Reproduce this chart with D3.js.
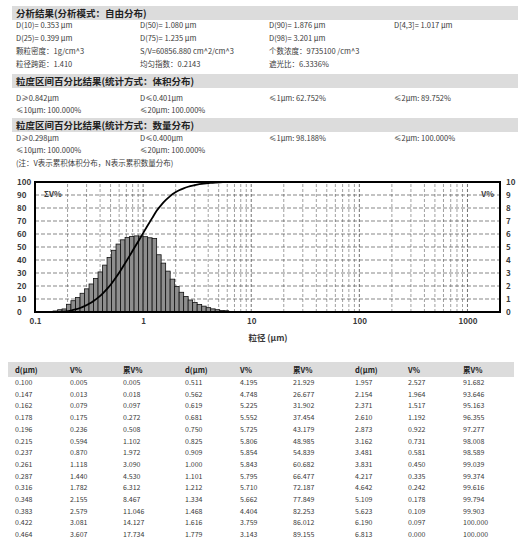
<!DOCTYPE html>
<html>
<head>
<meta charset="utf-8">
<script src="https://cdn.jsdelivr.net/npm/d3@7"></script>
<style>
body { margin:0; background:#fff; }
text { font-family:"Noto Sans CJK SC","Noto Sans",sans-serif; fill:#3a3a3a; }
</style>
</head>
<body>
<div id="report"></div>
<script>
// particle size (um), volume % per channel, cumulative volume %
var sizeD = [0.100,0.147,0.162,0.178,0.196,0.215,0.237,0.261,0.287,0.316,0.348,0.383,0.422,0.464,
             0.511,0.562,0.619,0.681,0.750,0.825,0.909,1.000,1.101,1.212,1.334,1.468,1.616,1.779,
             1.957,2.154,2.371,2.610,2.873,3.162,3.481,3.831,4.217,4.642,5.109,5.623,6.190,6.813];
var volPct = [0.005,0.013,0.079,0.175,0.236,0.594,0.870,1.118,1.440,1.782,2.155,2.579,3.081,3.607,
              4.195,4.748,5.225,5.552,5.725,5.806,5.854,5.843,5.795,5.710,5.662,4.404,3.759,3.143,
              2.527,1.964,1.517,1.192,0.922,0.731,0.581,0.450,0.335,0.242,0.178,0.109,0.097,0.000];
var cumPct = [0.005,0.018,0.097,0.272,0.508,1.102,1.972,3.090,4.530,6.312,8.467,11.046,14.127,17.734,
              21.929,26.677,31.902,37.454,43.179,48.985,54.839,60.682,66.477,72.187,77.849,82.253,86.012,89.155,
              91.682,93.646,95.163,96.355,97.277,98.008,98.589,99.039,99.374,99.616,99.794,99.903,100.000,100.000];

var leftTicks = [0,10,20,30,40,50,60,70,80,90,100];
var rightTicks = [0,1,2,3,4,5,6,7,8,9,10];
var xTicks = [0.1,1,10,100,1000];

var title1 = "分析结果(分析模式：自由分布)";
var summaryRows = [
  ["D(10)= 0.353 μm", "D(50)= 1.080 μm", "D(90)= 1.876 μm", "D[4,3]= 1.017 μm"],
  ["D(25)= 0.399 μm", "D(75)= 1.235 μm", "D(98)= 3.201 μm", ""],
  ["颗粒密度：1g/cm^3", "S/V=60856.880 cm^2/cm^3", "个数浓度：9735100 /cm^3", ""],
  ["粒径跨距：1.410", "均匀指数：0.2143", "遮光比：6.3336%", ""]
];
var title2 = "粒度区间百分比结果(统计方式：体积分布)";
var volRows = [
  ["D≥0.842μm", "D≤0.401μm", "≤1μm: 62.752%", "≤2μm: 89.752%"],
  ["≤10μm: 100.000%", "≤20μm: 100.000%", "", ""]
];
var title3 = "粒度区间百分比结果(统计方式：数量分布)";
var numRows = [
  ["D≥0.298μm", "D≤0.400μm", "≤1μm: 98.188%", "≤2μm: 100.000%"],
  ["≤10μm: 100.000%", "≤20μm: 100.000%", "", ""]
];
var note = "(注：V表示累积体积分布，N表示累积数量分布)";
var tableHead = ["d(μm)", "V%", "累V%"];

var svg = d3.select("#report")
    .append("svg")
    .attr("width", 522)
    .attr("height", 542)

var colX = [16, 140, 269, 394];

function band(y, label)
{
    svg.append("rect")
        .attr("x", 12).attr("y", y - 7)
        .attr("width", 506).attr("height", 14)
        .attr("fill", "#dcdcdc");
    svg.append("text")
        .attr("x", 16).attr("y", y + 3.5)
        .attr("font-size", 9.5).attr("font-weight", "bold")
        .style("fill", "#222")
        .text(label);
}

function rows(list, y0, step)
{
    list.forEach(function(r, i){
        r.forEach(function(t, j){
            if(t == "") return;
            svg.append("text")
                .attr("x", colX[j]).attr("y", y0 + i*step + 3)
                .attr("font-size", 7.5)
                .text(t);
        });
    });
}

band(13, title1);
rows(summaryRows, 25, 13);
band(81, title2);
rows(volRows, 98, 12);
band(125, title3);
rows(numRows, 138, 11.5);
svg.append("text").attr("x", 16).attr("y", 166).attr("font-size", 7.5).text(note);

// chart
var x = d3.scaleLog().domain([0.1, 2000]).range([35, 500]);
var yL = d3.scaleLinear().domain([0, 100]).range([312, 182]);
var yR = d3.scaleLinear().domain([0, 10]).range([312, 182]);

var grid = svg.append("g");
var minor = [];
[0.1,1,10,100,1000].forEach(function(dec){
    for(var k = 1; k < 10; k++){ var v = dec*k; if(v > 0.1 && v < 2000) minor.push(v); }
});
grid.selectAll(".vg").data(minor).enter().append("line")
    .attr("x1", function(d){return x(d);}).attr("x2", function(d){return x(d);})
    .attr("y1", yL(0)).attr("y2", yL(100))
    .attr("stroke", function(d){return xTicks.indexOf(d) >= 0 ? "#333" : "#777";})
    .attr("stroke-width", 0.7)
    .attr("stroke-dasharray", "3,2");
grid.selectAll(".hg").data(leftTicks.slice(1, 10)).enter().append("line")
    .attr("x1", x(0.1)).attr("x2", x(2000))
    .attr("y1", function(d){return yL(d);}).attr("y2", function(d){return yL(d);})
    .attr("stroke", "#555").attr("stroke-width", 0.7)
    .attr("stroke-dasharray", "4,2");

// histogram
var bars = [];
for(var i = 1; i < sizeD.length; i++)
    bars.push({"a" : sizeD[i-1], "b" : sizeD[i], "v" : volPct[i]});

svg.selectAll(".bar").data(bars).enter().append("rect")
    .attr("class", "bar")
    .attr("x", function(d){return x(d.a);})
    .attr("width", function(d){return x(d.b) - x(d.a);})
    .attr("y", function(d){return yR(d.v);})
    .attr("height", function(d){return yR(0) - yR(d.v);})
    .attr("fill", "#8e8e8e")
    .attr("stroke", "#111")
    .attr("stroke-width", 0.8);

// cumulative curve
var line = d3.line()
    .x(function(d, i){return x(sizeD[i]);})
    .y(function(d){return yL(d);})
    .curve(d3.curveMonotoneX);
svg.append("path")
    .attr("d", line(cumPct))
    .attr("fill", "none")
    .attr("stroke", "#000")
    .attr("stroke-width", 1.8);

// frame
svg.append("rect")
    .attr("x", x(0.1)).attr("y", yL(100))
    .attr("width", x(2000) - x(0.1)).attr("height", yL(0) - yL(100))
    .attr("fill", "none").attr("stroke", "#000").attr("stroke-width", 2);

var axL = svg.append("g").attr("transform", "translate(35,0)")
    .call(d3.axisLeft(yL).tickValues(leftTicks).tickSize(0).tickPadding(4));
axL.selectAll("text").attr("x", -18).attr("text-anchor", "start").attr("font-size", 8).attr("font-weight", "bold");
var axR = svg.append("g").attr("transform", "translate(500,0)")
    .call(d3.axisRight(yR).tickValues(rightTicks).tickSize(0).tickPadding(6));
axR.selectAll("text").attr("font-size", 8).attr("font-weight", "bold");
var axB = svg.append("g").attr("transform", "translate(0,312)")
    .call(d3.axisBottom(x).tickValues(xTicks).tickFormat(d3.format("")).tickSize(0).tickPadding(6));
axB.selectAll("text").attr("font-size", 8).attr("font-weight", "bold");
svg.selectAll(".domain").remove();

svg.append("text").attr("x", 44).attr("y", 197).attr("font-size", 8).attr("font-weight", "bold").text("ΣV%");
svg.append("text").attr("x", 494).attr("y", 197).attr("text-anchor", "end").attr("font-size", 8).attr("font-weight", "bold").text("V%");
svg.append("text").attr("x", 268).attr("y", 341).attr("text-anchor", "middle").attr("font-size", 8.5).attr("font-weight", "bold").text("粒径 (μm)");

// data table
svg.append("rect").attr("x", 8).attr("y", 362).attr("width", 506).attr("height", 15).attr("fill", "#dcdcdc");
var groupX = [[15, 70, 123], [185, 240, 293], [355, 408, 463]];
var fmt = d3.format(".3f");
groupX.forEach(function(g, k){
    tableHead.forEach(function(h, j){
        svg.append("text").attr("x", g[j]).attr("y", 373).attr("font-size", 7.5).attr("font-weight", "bold").style("fill", "#222").text(h);
    });
    for(var r = 0; r < 14; r++){
        var idx = k*14 + r;
        var yy = 385 + r*11.7;
        [sizeD[idx], volPct[idx], cumPct[idx]].forEach(function(v, j){
            svg.append("text").attr("x", g[j]).attr("y", yy).attr("font-size", 7).text(fmt(v));
        });
    }
});
</script>
</body>
</html>
